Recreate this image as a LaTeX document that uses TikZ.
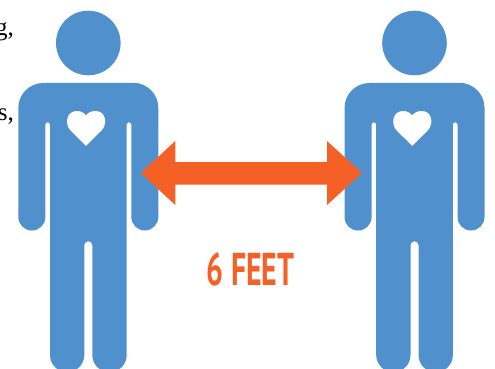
\documentclass[tikz,border=0pt]{standalone}
\usepackage{fontspec}
\setmainfont{Liberation Serif}
\newfontfamily\headfont{PT Sans}
\definecolor{figblue}{HTML}{5091CD}
\definecolor{arroworange}{HTML}{F56026}
\tikzset{
  figfill/.style={fill=figblue,draw=none},
  heartfill/.style={fill=white,draw=none},
  pics/person/.style={code={
    \path[figfill] (88.3,43) circle[radius=32.3];
    \path[figfill] (18.3,108) arc[start angle=180,end angle=270,radius=25]
      -- (133.3,82.8) arc[start angle=270,end angle=360,radius=25]
      -- (158.3,217) arc[start angle=0,end angle=180,radius=13.5]
      -- (131.3,124.6) arc[start angle=0,end angle=-180,radius=2.3]
      -- (126.7,355) arc[start angle=0,end angle=180,radius=17.2]
      -- (92.3,245.2) arc[start angle=0,end angle=-180,radius=4]
      -- (84.3,355) arc[start angle=0,end angle=180,radius=17.15]
      -- (50,124.6) arc[start angle=0,end angle=-180,radius=2.3]
      -- (45.4,217) arc[start angle=0,end angle=180,radius=13.55]
      -- cycle;
    \path[heartfill] (86,145.9) -- (70.5,130.5)
      .. controls (64.5,124.5) and (66,111) .. (77,111)
      .. controls (81,111) and (84.5,113) .. (86,115.5)
      .. controls (87.5,113) and (91,111) .. (95.5,111)
      .. controls (106.5,111) and (107.5,124.5) .. (101.5,130.5)
      -- cycle;
  }},
  sidetext/.style={anchor=base east,inner sep=0pt,font=\fontsize{25}{25}\selectfont,text=black},
  labeltext/.style={inner sep=0pt,text=arroworange,font=\headfont\bfseries\fontsize{46}{46}\selectfont}
}
\begin{document}
\begin{tikzpicture}[x=1pt,y=-1pt]
\useasboundingbox (0,0) rectangle (495,369);
\clip (0,0) rectangle (495,369);
\node[sidetext] (frag1) at (14,36) {g,};
\node[sidetext] (frag2) at (14,120) {s,};
\pic (left) at (0,0) {person};
\pic (right) at (326.2,0) {person};
\path[fill=arroworange] (140.7,173) -- (175.3,141) -- (175.3,162) -- (327,162) -- (327,141) -- (362,173)
  -- (327,205) -- (327,184.5) -- (175.3,184.5) -- (175.3,205) -- cycle;
\node[labeltext] (dist) at (250.5,269) {\scalebox{.65}[1]{6 FEET}};
\end{tikzpicture}
\end{document}
